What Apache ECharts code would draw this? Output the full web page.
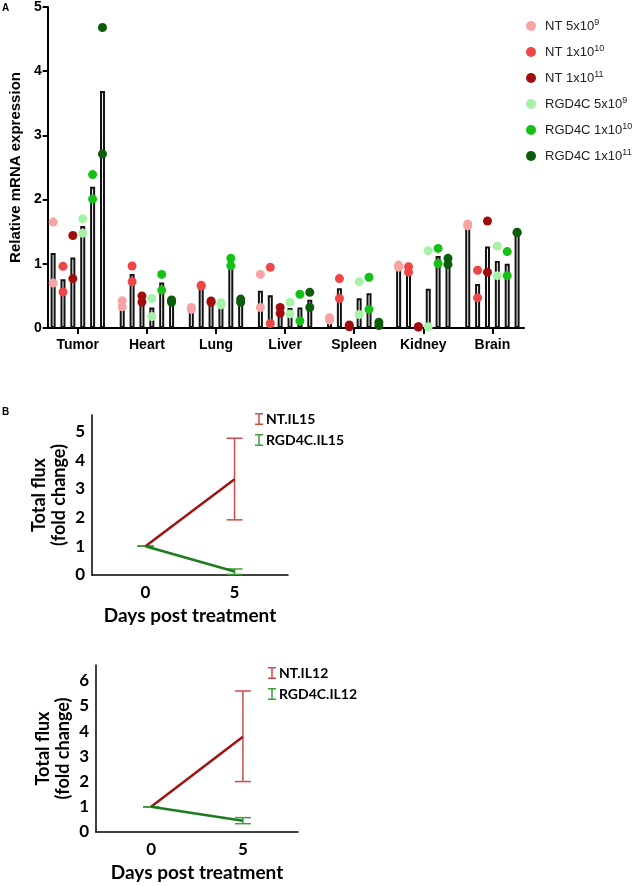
<!DOCTYPE html>
<html>
<head>
<meta charset="utf-8">
<script src="https://cdn.jsdelivr.net/npm/echarts@6/dist/echarts.min.js"></script>
<style>html,body{margin:0;padding:0;background:#fff}#c{width:634px;height:886px}</style>
</head>
<body>
<div id="c"></div>
<script>
// ---------- Panel A data ----------
const organs = ['Tumor', 'Heart', 'Lung', 'Liver', 'Spleen', 'Kidney', 'Brain'];
const groups = ['NT 5x10^9', 'NT 1x10^10', 'NT 1x10^11', 'RGD4C 5x10^9', 'RGD4C 1x10^10', 'RGD4C 1x10^11'];
const groupColors = ['#f7a3a3', '#f04545', '#a30c0c', '#a6f2a6', '#14c114', '#0b5c0b'];
// bar heights (mean) per group, across organs
const meanNT5e9    = [1.17, 0.37, 0.30, 0.58, 0.14, 0.95, 1.59];
const meanNT1e10   = [0.76, 0.84, 0.66, 0.51, 0.62, 0.89, 0.685];
const meanNT1e11   = [1.10, 0.45, 0.41, 0.27, 0.035, 0.018, 1.27];
const meanRGD5e9   = [1.59, 0.32, 0.375, 0.31, 0.465, 0.61, 1.045];
const meanRGD1e10  = [2.20, 0.71, 1.03, 0.32, 0.54, 1.12, 1.00];
const meanRGD1e11  = [3.69, 0.42, 0.43, 0.44, 0.063, 1.04, 1.49];
// replicate 1 and replicate 2 per group, across organs
const rep1NT5e9    = [1.65, 0.425, 0.32, 0.835, 0.16, 0.98, 1.62];
const rep2NT5e9    = [0.70, 0.33, 0.29, 0.32, 0.125, 0.945, 1.59];
const rep1NT1e10   = [0.96, 0.965, 0.665, 0.945, 0.77, 0.955, 0.90];
const rep2NT1e10   = [0.56, 0.72, 0.655, 0.07, 0.46, 0.87, 0.47];
const rep1NT1e11   = [1.44, 0.50, 0.42, 0.32, 0.047, 0.02, 1.667];
const rep2NT1e11   = [0.77, 0.405, 0.40, 0.23, 0.02, 0.015, 0.87];
const rep1RGD5e9   = [1.70, 0.46, 0.395, 0.40, 0.72, 1.205, 1.277];
const rep2RGD5e9   = [1.475, 0.18, 0.36, 0.22, 0.21, 0.02, 0.815];
const rep1RGD1e10  = [2.39, 0.835, 1.085, 0.525, 0.79, 1.24, 1.19];
const rep2RGD1e10  = [2.01, 0.59, 0.97, 0.11, 0.29, 1.00, 0.815];
const rep1RGD1e11  = [4.68, 0.436, 0.45, 0.555, 0.09, 1.085, 1.49];
const rep2RGD1e11  = [2.71, 0.40, 0.40, 0.32, 0.037, 0.99, 1.485];
const yTicksA = [0, 1, 2, 3, 4, 5];

// ---------- Panel B data ----------
const days = [0, 5];
const ntIL15Mean = [1, 3.33], ntIL15Low = [1, 1.92], ntIL15High = [1, 4.76];
const rgdIL15Mean = [1, 0.12], rgdIL15Low = [1, 0.02], rgdIL15High = [1, 0.21];
const ntIL12Mean = [1, 3.78], ntIL12Low = [1, 2.00], ntIL12High = [1, 5.59];
const rgdIL12Mean = [1, 0.45], rgdIL12Low = [1, 0.33], rgdIL12High = [1, 0.57];
const yTicksB1 = [0, 1, 2, 3, 4, 5];
const yTicksB2 = [0, 1, 2, 3, 4, 5, 6];

const means = [meanNT5e9, meanNT1e10, meanNT1e11, meanRGD5e9, meanRGD1e10, meanRGD1e11];
const reps = [[rep1NT5e9, rep2NT5e9], [rep1NT1e10, rep2NT1e10], [rep1NT1e11, rep2NT1e11],
              [rep1RGD5e9, rep2RGD5e9], [rep1RGD1e10, rep2RGD1e10], [rep1RGD1e11, rep2RGD1e11]];

const SLOTS = 7; // 6 bars + one gap per organ
const pos = (o, g) => o * SLOTS + g - 2.5;

const fontA = 'Liberation Sans, Arial, sans-serif';
const fontB = 'Lato, Open Sans, sans-serif';

const series = [];
groups.forEach((g, gi) => {
  const pts = [];
  organs.forEach((o, oi) => {
    reps[gi].forEach(r => pts.push([pos(oi, gi), r[oi]]));
  });
  series.push({
    name: g, type: 'scatter', xAxisIndex: 0, yAxisIndex: 0, z: 5,
    symbolSize: 9, data: pts,
    itemStyle: { color: groupColors[gi], opacity: 1 }
  });
});
groups.forEach((g, gi) => {
  series.push({
    name: g, type: 'bar', xAxisIndex: 0, yAxisIndex: 0, z: 2,
    barWidth: 5, barGap: '-100%',
    data: organs.map((o, oi) => [pos(oi, gi), means[gi][oi]]),
    itemStyle: { color: '#ffffff', borderColor: '#111', borderWidth: 2 }
  });
});

function errSeries(name, color, xIdx, low, high) {
  return {
    name, type: 'custom', xAxisIndex: xIdx, yAxisIndex: xIdx, z: 3,
    data: days.map((d, i) => [d, low[i], high[i]]),
    encode: { x: 0, y: [1, 2] },
    renderItem: (params, api) => {
      const x = api.value(0);
      const pl = api.coord([x, api.value(1)]);
      const ph = api.coord([x, api.value(2)]);
      const w = 8;
      const st = { stroke: color, lineWidth: 1.5 };
      return { type: 'group', children: [
        { type: 'line', shape: { x1: ph[0], y1: ph[1], x2: pl[0], y2: pl[1] }, style: st },
        { type: 'line', shape: { x1: ph[0] - w, y1: ph[1], x2: ph[0] + w, y2: ph[1] }, style: st },
        { type: 'line', shape: { x1: pl[0] - w, y1: pl[1], x2: pl[0] + w, y2: pl[1] }, style: st }
      ]};
    }
  };
}
function lineSeries(name, color, xIdx, mean) {
  return {
    name, type: 'line', xAxisIndex: xIdx, yAxisIndex: xIdx, z: 4,
    data: days.map((d, i) => [d, mean[i]]),
    showSymbol: false, symbol: 'none',
    lineStyle: { color, width: 2.5 }, itemStyle: { color }
  };
}
const RED_L = '#9e1313', RED_E = '#cf4b4b', GRN_L = '#1d7a1d', GRN_E = '#3d9c3d';
series.push(errSeries('NT.IL15', RED_E, 1, ntIL15Low, ntIL15High));
series.push(lineSeries('NT.IL15', RED_L, 1, ntIL15Mean));
series.push(errSeries('RGD4C.IL15', GRN_E, 1, rgdIL15Low, rgdIL15High));
series.push(lineSeries('RGD4C.IL15', GRN_L, 1, rgdIL15Mean));
series.push(errSeries('NT.IL12', RED_E, 2, ntIL12Low, ntIL12High));
series.push(lineSeries('NT.IL12', RED_L, 2, ntIL12Mean));
series.push(errSeries('RGD4C.IL12', GRN_E, 2, rgdIL12Low, rgdIL12High));
series.push(lineSeries('RGD4C.IL12', GRN_L, 2, rgdIL12Mean));

const iconI = 'path://M0,0H8V1.5H4.75V10.5H8V12H0V10.5H3.25V1.5H0Z';

function bXAxis(gridIndex) {
  return {
    type: 'value', gridIndex, min: -3, max: 8,
    name: 'Days post treatment', nameLocation: 'middle', nameGap: 31,
    nameTextStyle: { fontFamily: fontB, fontWeight: 'bold', fontSize: 19, color: '#000' },
    axisLine: { show: true, onZero: false, lineStyle: { color: '#000', width: 1.5 } },
    axisTick: { show: false },
    splitLine: { show: false },
    axisLabel: { customValues: days, margin: 9, fontFamily: fontB, fontWeight: 'bold', fontSize: 17, color: '#000' }
  };
}
function bYAxis(gridIndex, max, ticks) {
  return {
    type: 'value', gridIndex, min: 0, max, interval: 1,
    name: 'Total flux\n(fold change)', nameLocation: 'middle', nameGap: 23,
    nameTextStyle: { fontFamily: fontB, fontWeight: 'bold', fontSize: 18, color: '#000', lineHeight: 20 },
    axisLine: { show: true, onZero: false, lineStyle: { color: '#000', width: 1.5 } },
    axisTick: { show: false },
    splitLine: { show: false },
    axisLabel: { customValues: ticks, margin: 7, fontFamily: fontB, fontWeight: 'bold', fontSize: 17, color: '#000' }
  };
}
function bLegend(names, left, top) {
  return {
    orient: 'vertical', left, top, itemWidth: 8, itemHeight: 12, itemGap: 7,
    data: [
      { name: names[0], icon: iconI, itemStyle: { color: RED_E } },
      { name: names[1], icon: iconI, itemStyle: { color: GRN_E } }
    ],
    textStyle: { fontFamily: fontB, fontWeight: 'bold', fontSize: 14, color: '#000', padding: [0, 0, 0, -2] }
  };
}

const option = {
  animation: false,
  backgroundColor: '#fff',
  graphic: [
    { type: 'text', left: 2, top: 3, style: { text: 'A', fontFamily: fontA, fontWeight: 'bold', fontSize: 10, fill: '#000' } },
    { type: 'text', left: 2, top: 407, style: { text: 'B', fontFamily: fontA, fontWeight: 'bold', fontSize: 10, fill: '#000' } }
  ],
  legend: [
    {
      orient: 'vertical', left: 521, top: 13, itemWidth: 10, itemHeight: 10, itemGap: 10,
      icon: 'circle', data: groups,
      formatter: n => { const m = n.match(/^(.*)x10\^(\d+)$/); return m[1] + 'x10{sup|' + m[2] + '}'; },
      textStyle: { fontFamily: fontA, fontSize: 13, color: '#222', lineHeight: 16, padding: [0, 0, 0, 4],
        rich: { sup: { fontFamily: fontA, fontSize: 9, color: '#222', verticalAlign: 'top', lineHeight: 16 } } }
    },
    bLegend(['NT.IL15', 'RGD4C.IL15'], 250, 407),
    bLegend(['NT.IL12', 'RGD4C.IL12'], 263, 661)
  ],
  grid: [
    { left: 42, top: 7, width: 482, height: 321 },
    { left: 92, top: 415, width: 196, height: 160 },
    { left: 96, top: 665, width: 202, height: 167 }
  ],
  xAxis: [
    {
      type: 'value', gridIndex: 0, min: -3.05, max: 45.2,
      axisLine: { show: true, onZero: false, lineStyle: { color: '#000', width: 2 } },
      axisTick: { show: true, customValues: organs.map((o, i) => i * SLOTS), length: 6, lineStyle: { color: '#000', width: 2 } },
      splitLine: { show: false },
      axisLabel: { customValues: organs.map((o, i) => i * SLOTS), formatter: v => organs[Math.round(v / SLOTS)],
        margin: 10, fontFamily: fontA, fontWeight: 'bold', fontSize: 14, color: '#000' }
    },
    bXAxis(1), bXAxis(2)
  ],
  yAxis: [
    {
      type: 'value', gridIndex: 0, min: 0, max: 5, interval: 1,
      name: 'Relative mRNA expression', nameLocation: 'middle', nameGap: 21,
      nameTextStyle: { fontFamily: fontA, fontWeight: 'bold', fontSize: 15, color: '#000' },
      axisLine: { show: true, onZero: false, lineStyle: { color: '#000', width: 2 } },
      axisTick: { show: true, length: 5, lineStyle: { color: '#000', width: 2 } },
      splitLine: { show: false },
      axisLabel: { customValues: yTicksA, margin: 6, fontFamily: fontA, fontWeight: 'bold', fontSize: 14, color: '#000' }
    },
    bYAxis(1, 5.57, yTicksB1),
    bYAxis(2, 6.62, yTicksB2)
  ],
  series
};
const chart = echarts.init(document.getElementById('c'), null, { renderer: 'canvas' });
chart.setOption(option);
</script>
</body>
</html>
